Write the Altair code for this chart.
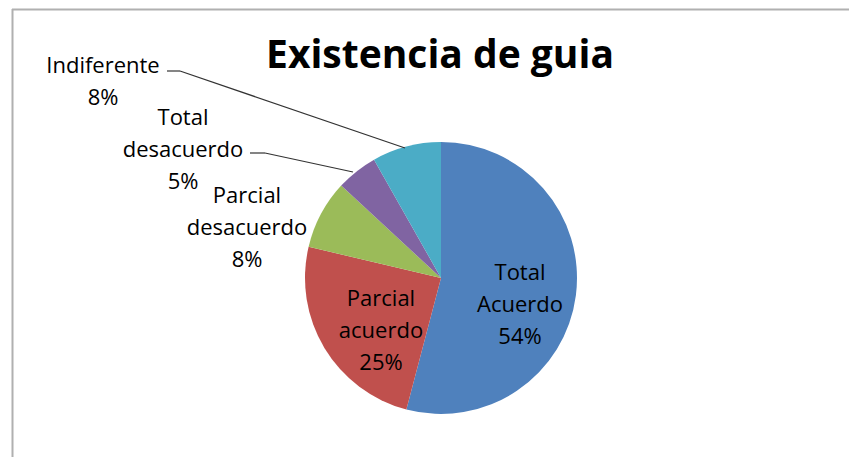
import altair as alt
import pandas as pd

# ---- data ----
categories = ["Total Acuerdo", "Parcial acuerdo", "Parcial desacuerdo", "Total desacuerdo", "Indiferente"]
counts = [33, 15, 5, 3, 5]
colors = ["#4F81BD", "#C0504D", "#9BBB59", "#8064A2", "#4BACC6"]
label_lines = [["Total", "Acuerdo"], ["Parcial", "acuerdo"], ["Parcial", "desacuerdo"],
               ["Total", "desacuerdo"], ["Indiferente"]]
title_text = "Existencia de guia"

total = sum(counts)
pct = [f"{round(100 * c / total)}%" for c in counts]
df = pd.DataFrame({
    "cat": categories,
    "n": counts,
    "order": list(range(len(categories))),
    "lines": [l + [p] for l, p in zip(label_lines, pct)],
})

W, H = 841, 449
CX, CY, R = 433, 270, 136
FONT = "Open Sans"

base = alt.Chart(df)
one = base.transform_filter(alt.datum.order == 0)

frame_top = one.mark_rule(color="#b0b0b0", strokeWidth=2).encode(
    x=alt.value(4), x2=alt.value(W + 20), y=alt.value(1.5))
frame_left = one.mark_rule(color="#b0b0b0", strokeWidth=2).encode(
    x=alt.value(4.5), y=alt.value(1), y2=alt.value(H + 20))

pie = base.mark_arc(outerRadius=R).encode(
    theta=alt.Theta("n:Q", stack=True),
    order=alt.Order("order:Q"),
    color=alt.Color("cat:N", scale=alt.Scale(domain=categories, range=colors), legend=None),
    x=alt.value(CX), y=alt.value(CY),
)

# label placement (center x, first baseline y) in view pixels
label_pos = {
    "Total Acuerdo": (512, 272),
    "Parcial acuerdo": (373, 298),
    "Parcial desacuerdo": (239, 195),
    "Total desacuerdo": (175, 117),
    "Indiferente": (95, 65),
}
labels = []
for cat, (lx, ly) in label_pos.items():
    labels.append(
        base.transform_filter(alt.datum.cat == cat).mark_text(
            font=FONT, fontSize=22, lineHeight=32, align="center", baseline="alphabetic",
            color="#000000"
        ).encode(text="lines:N", x=alt.value(lx), y=alt.value(ly))
    )

seg = [
    ((159, 63), (172, 63)), ((172, 63), (397, 140)),
    ((242, 145), (257, 145)), ((257, 145), (345, 164)),
]
leaders = [
    one.mark_rule(color="#333333", strokeWidth=1.2).encode(
        x=alt.value(a[0]), y=alt.value(a[1]), x2=alt.value(b[0]), y2=alt.value(b[1]))
    for a, b in seg
]

title = one.mark_text(
    font=FONT, fontSize=39, fontWeight="bold", align="center", baseline="alphabetic", color="black"
).encode(text=alt.value(title_text), x=alt.value(432), y=alt.value(60))

chart = alt.layer(frame_top, frame_left, pie, *leaders, *labels, title).properties(
    width=W, height=H, padding=0, autosize=alt.AutoSizeParams(type="none")
).configure_view(stroke=None)

chart.save("out.html", embed_options={"renderer": "svg", "actions": False})
